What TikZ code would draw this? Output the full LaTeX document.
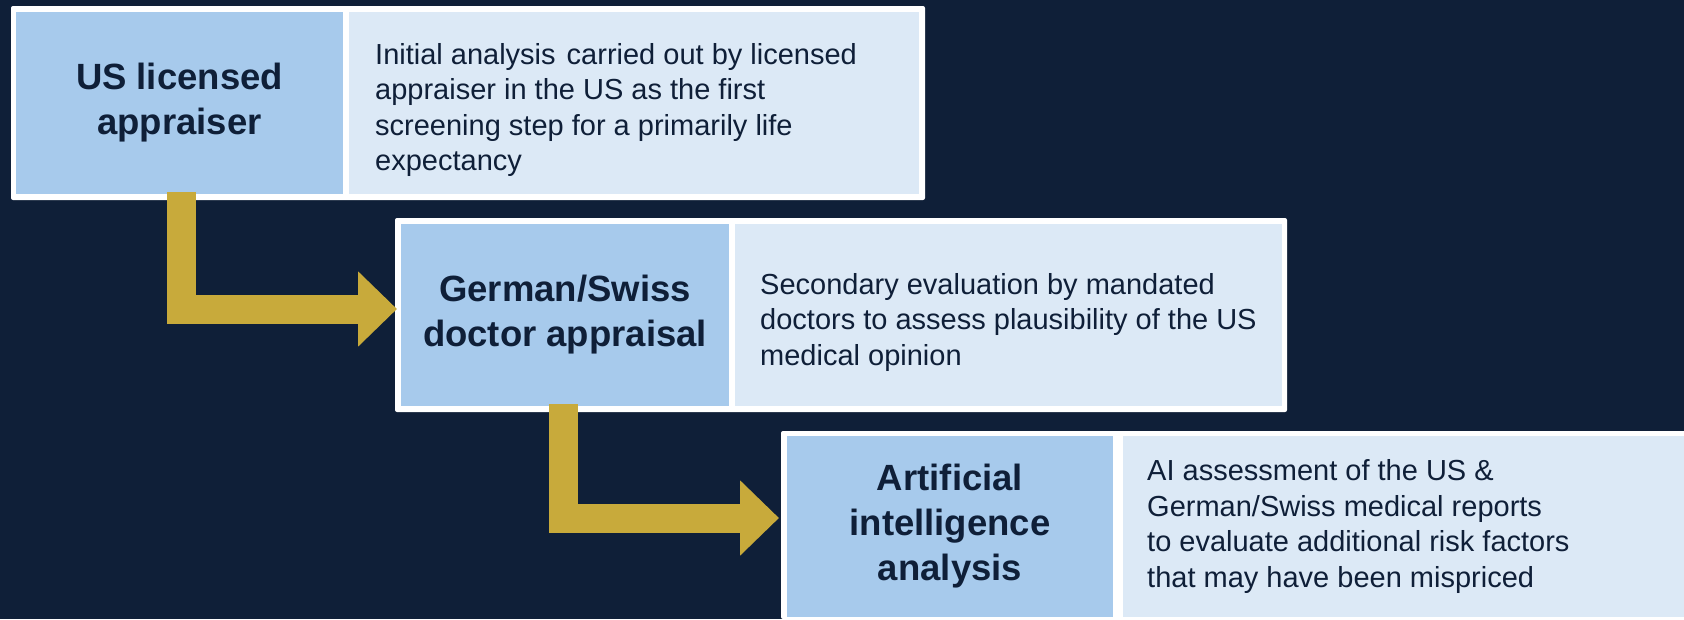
\documentclass[tikz,border=0pt]{standalone}
\usepackage{fontspec}
\setmainfont{Liberation Sans}
\usetikzlibrary{arrows.meta,calc}
\definecolor{navy}{HTML}{0F1F38}
\definecolor{stepblue}{HTML}{A7CAEC}
\definecolor{notepale}{HTML}{DCE9F6}
\definecolor{gold}{HTML}{C8AA3B}

\begin{document}
\begin{tikzpicture}[x=1pt,y=-1pt,
  box/.style={rectangle, anchor=north west, inner sep=0pt, outer sep=0pt, draw=none},
  frame/.style={box, fill=white, rounded corners=2pt, minimum height=194pt},
  titlecell/.style={box, fill=stepblue, minimum height=182pt, text=navy,
    font=\fontsize{36.5}{45}\selectfont\bfseries, align=center},
  notecell/.style={box, fill=notepale, minimum height=182pt},
  note/.style={anchor=west, inner sep=0pt, text=navy,
    font=\fontsize{29}{35.5}\selectfont, align=left},
  flow/.style={draw=gold, line width=29pt, line join=miter,
    -{Triangle[width=73pt,length=39pt]}}
]
% canvas
\useasboundingbox (0,0) rectangle (1684,619);
\clip (0,0) rectangle (1684,619);
\fill[navy] (0,0) rectangle (1684,619);

% step 1
\node[frame, minimum width=914pt] (f1) at (11,6) {};
\node[titlecell, minimum width=327pt] (t1) at (16,12) {US licensed\\appraiser};
\node[notecell, minimum width=570pt] (p1) at (349,12) {};
\node[note] (d1) at ($(p1.west)+(26,7)$)
  {Initial analysis\hspace{3pt} carried out by licensed\\appraiser in the US as the first\\screening step for a primarily life\\expectancy};

% step 2
\node[frame, minimum width=892pt] (f2) at (395,218) {};
\node[titlecell, minimum width=328pt] (t2) at (401,224) {German/Swiss\\doctor appraisal};
\node[notecell, minimum width=547pt] (p2) at (735,224) {};
\node[note] (d2) at ($(p2.west)+(25,7)$)
  {Secondary evaluation by mandated\\doctors to assess plausibility of the US\\medical opinion};

% step 3
\node[frame, minimum width=920pt, minimum height=188pt] (f3) at (781,431) {};
\node[titlecell, minimum width=326pt, minimum height=181pt] (t3) at (787,436) {Artificial\\intelligence\\analysis};
\node[notecell, minimum width=580pt, minimum height=181pt] (p3) at (1123,436) {};
\node[note] (d3) at ($(p3.west)+(24,0)$)
  {AI assessment of the US \&\\German/Swiss medical reports\\to evaluate additional risk factors\\that may have been mispriced};

% bent arrows between the steps
\draw[flow] ($(t1.south)+(2,-2)$) |- ($(f2.west)+(2,-6)$);
\draw[flow] ($(t2.south)+(-1.5,-2)$) |- ($(f3.west)+(-2,-7)$);
\end{tikzpicture}
\end{document}
